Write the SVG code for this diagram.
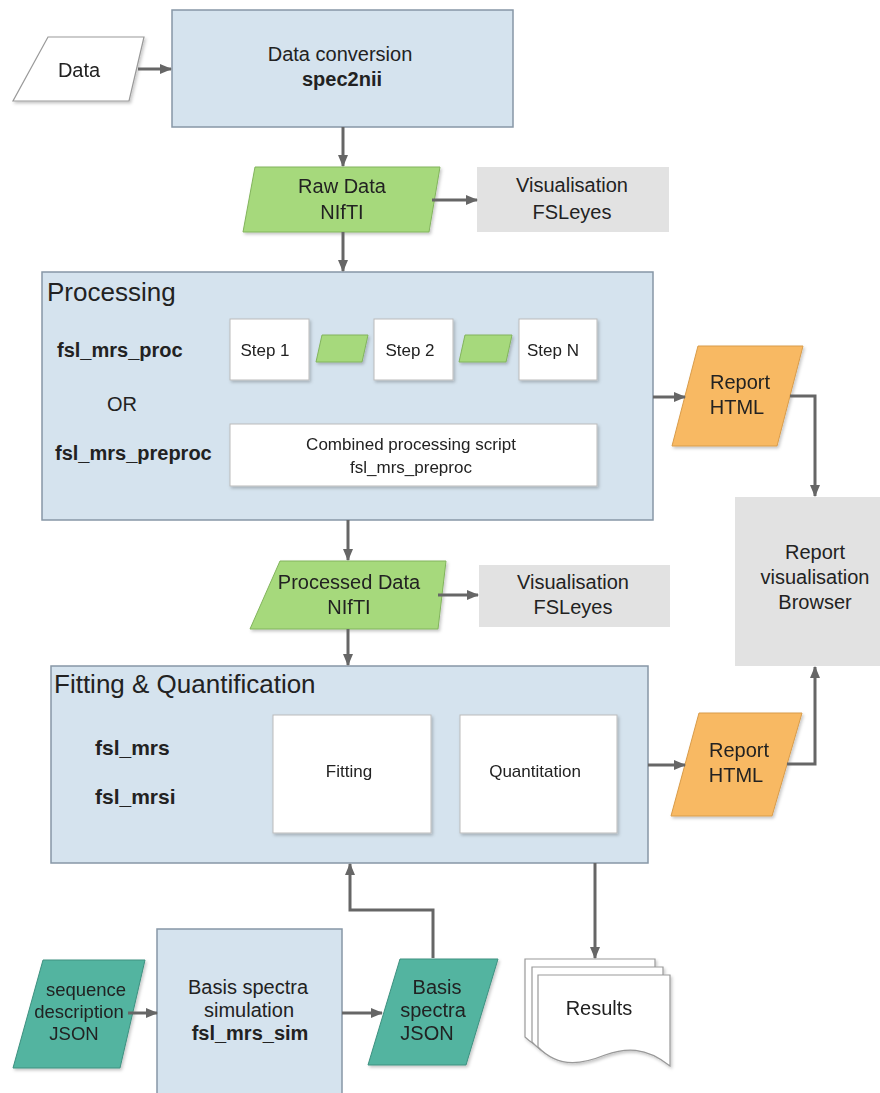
<svg xmlns="http://www.w3.org/2000/svg" width="880" height="1093" viewBox="0 0 880 1093">
<style>
text{font-family:"Liberation Sans",Arial,sans-serif;fill:#222;}
.lbl{font-size:20px;text-anchor:middle;}
.sm{font-size:17px;text-anchor:middle;}
.sq{font-size:18.5px;text-anchor:middle;}
.ttl{font-size:26px;}
.b{font-weight:bold;}
.blue{fill:#d5e3ee;stroke:#8797a6;stroke-width:1.5;}
.white{fill:#fff;stroke:#bbb;stroke-width:1;}
.green{fill:#a6d97c;stroke:#82b45c;stroke-width:1;}
.teal{fill:#52b4a0;stroke:#3f9180;stroke-width:1;}
.orange{fill:#f8b963;stroke:#d99c4a;stroke-width:1;}
.gray{fill:#e2e2e2;}
.wf{fill:#fff;stroke:#999;stroke-width:1.2;}
.c{fill:none;stroke:#666;stroke-width:3;marker-end:url(#ah);}
</style>
<defs>
<marker id="ah" markerUnits="userSpaceOnUse" markerWidth="12" markerHeight="12" refX="11" refY="6" orient="auto">
<path d="M0,1 L12,6 L0,11 Z" fill="#666"/>
</marker>
<filter id="sh" x="-10%" y="-10%" width="130%" height="130%">
<feDropShadow dx="1.5" dy="2" stdDeviation="1.5" flood-color="#000" flood-opacity="0.22"/>
</filter>
</defs>

<g id="data" filter="url(#sh)">
<polygon class="wf" points="48,37 144,37 129,101 13,101"/>
<text class="lbl" x="79" y="77">Data</text>
</g>

<g id="data-conversion">
<rect class="blue" x="172" y="10" width="341" height="117"/>
<text class="lbl" x="340" y="61">Data conversion</text>
<text class="lbl b" x="342" y="86">spec2nii</text>
</g>

<g id="raw-data" filter="url(#sh)">
<polygon class="green" points="255,167 440,167 429,232 243,232"/>
<text class="lbl" x="342" y="193">Raw Data</text>
<text class="lbl" x="342" y="219">NIfTI</text>
</g>

<g id="vis1">
<rect class="gray" x="477" y="167" width="192" height="65"/>
<text class="lbl" x="572" y="192">Visualisation</text>
<text class="lbl" x="572" y="219">FSLeyes</text>
</g>

<g id="processing">
<rect class="blue" x="42" y="272" width="611" height="248"/>
<text class="ttl" x="47" y="301">Processing</text>
<text class="lbl b" x="57" y="357" style="text-anchor:start">fsl_mrs_proc</text>
<text class="lbl" x="122" y="411">OR</text>
<text class="lbl b" x="55" y="460" style="text-anchor:start">fsl_mrs_preproc</text>
</g>

<g id="step1" filter="url(#sh)">
<rect class="white" x="230" y="319" width="79" height="61"/>
<text class="sm" x="265" y="356">Step 1</text>
</g>
<g id="inter1" filter="url(#sh)">
<polygon class="green" points="322,335 368,335 362,362 316,362"/>
</g>
<g id="step2" filter="url(#sh)">
<rect class="white" x="374" y="319" width="79" height="61"/>
<text class="sm" x="410" y="356">Step 2</text>
</g>
<g id="inter2" filter="url(#sh)">
<polygon class="green" points="465,335 512,335 506,362 459,362"/>
</g>
<g id="stepN" filter="url(#sh)">
<rect class="white" x="519" y="319" width="78" height="61"/>
<text class="sm" x="553" y="356">Step N</text>
</g>
<g id="combined" filter="url(#sh)">
<rect class="white" x="230" y="424" width="367" height="62"/>
<text class="sm" x="411" y="450">Combined processing script</text>
<text class="sm" x="411" y="473">fsl_mrs_preproc</text>
</g>

<g id="report1" filter="url(#sh)">
<polygon class="orange" points="698,346 803,346 777,446 672,446"/>
<text class="lbl" x="740" y="389">Report</text>
<text class="lbl" x="737" y="414">HTML</text>
</g>

<g id="report-vis">
<rect class="gray" x="735" y="497" width="145" height="169"/>
<text class="lbl" x="815" y="559">Report</text>
<text class="lbl" x="815" y="584">visualisation</text>
<text class="lbl" x="815" y="609">Browser</text>
</g>

<g id="processed-data" filter="url(#sh)">
<polygon class="green" points="280,561 446,561 438,629 250,629"/>
<text class="lbl" x="349" y="589">Processed Data</text>
<text class="lbl" x="349" y="614">NIfTI</text>
</g>

<g id="vis2">
<rect class="gray" x="479" y="565" width="191" height="62"/>
<text class="lbl" x="573" y="589">Visualisation</text>
<text class="lbl" x="573" y="614">FSLeyes</text>
</g>

<g id="fitting-quant">
<rect class="blue" x="51" y="666" width="597" height="197"/>
<text class="ttl" x="54" y="693">Fitting &amp; Quantification</text>
<text class="b" x="95" y="755" style="font-size:21px">fsl_mrs</text>
<text class="b" x="95" y="804" style="font-size:21px">fsl_mrsi</text>
</g>
<g id="fitting" filter="url(#sh)">
<rect class="white" x="273" y="715" width="158" height="118"/>
<text class="sm" x="349" y="777">Fitting</text>
</g>
<g id="quantitation" filter="url(#sh)">
<rect class="white" x="460" y="715" width="157" height="118"/>
<text class="sm" x="535" y="777">Quantitation</text>
</g>

<g id="report2" filter="url(#sh)">
<polygon class="orange" points="699,713 802,713 772,816 671,816"/>
<text class="lbl" x="739" y="757">Report</text>
<text class="lbl" x="736" y="782">HTML</text>
</g>

<g id="sequence" filter="url(#sh)">
<polygon class="teal" points="43,960 145,960 120,1068 13,1068"/>
<text class="sq" x="86" y="996">sequence</text>
<text class="sq" x="79" y="1018">description</text>
<text class="sq" x="74" y="1040">JSON</text>
</g>

<g id="basis-sim">
<rect class="blue" x="157" y="929" width="185" height="170"/>
<text class="lbl" x="248" y="994">Basis spectra</text>
<text class="lbl" x="249" y="1017">simulation</text>
<text class="lbl b" x="250" y="1040">fsl_mrs_sim</text>
</g>

<g id="basis-json" filter="url(#sh)">
<polygon class="teal" points="400,959 498,959 466,1065 368,1065"/>
<text class="lbl" x="437" y="994">Basis</text>
<text class="lbl" x="433" y="1017">spectra</text>
<text class="lbl" x="427" y="1040">JSON</text>
</g>

<g id="results" filter="url(#sh)">
<path class="wf" d="M525,959 H655 V1050 C630,1032 610,1036 590,1044 C570,1052 545,1056 525,1037 Z"/>
<path class="wf" d="M532,967 H663 V1058 C638,1040 618,1044 598,1052 C578,1060 552,1064 532,1042 Z"/>
<path class="wf" d="M538,975 H670 V1066 C645,1046 625,1048 605,1055 C585,1063 560,1070 538,1047 Z"/>
<text class="lbl" x="599" y="1015">Results</text>
</g>

<g id="connectors">
<path class="c" d="M138,69 H171"/>
<path class="c" d="M343,127 V166"/>
<path class="c" d="M432,200 H477"/>
<path class="c" d="M343,232 V271"/>
<path class="c" d="M653,397 H685"/>
<path class="c" d="M790,396 H815 V496"/>
<path class="c" d="M348,520 V560"/>
<path class="c" d="M438,595 H478"/>
<path class="c" d="M348,629 V665"/>
<path class="c" d="M648,765 H685"/>
<path class="c" d="M787,764 H815 V667"/>
<path class="c" d="M433,958 V910 H350 V864"/>
<path class="c" d="M595,863 V958"/>
<path class="c" d="M128,1013 H157"/>
<path class="c" d="M342,1013 H382"/>
</g>
</svg>
